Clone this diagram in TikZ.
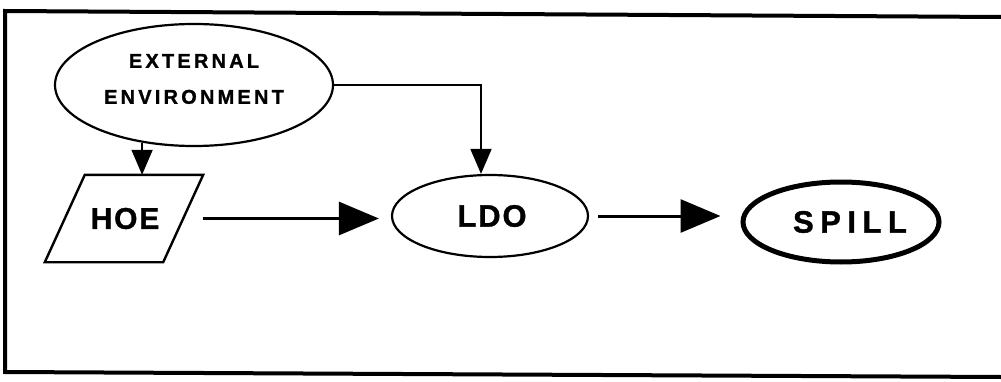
\documentclass[tikz,border=0pt]{standalone}
\usepackage{fontspec}
\setmainfont{Liberation Sans}
\newfontfamily\widefont[LetterSpace=16, BoldFont={* Bold}, BoldFeatures={FakeBold=1.2}]{Liberation Sans}
\newfontfamily\spillfont[LetterSpace=21, BoldFont={* Bold}, BoldFeatures={FakeBold=1.2}]{Liberation Sans}
\newfontfamily\midfont[LetterSpace=6, BoldFont={* Bold}, BoldFeatures={FakeBold=1.2}]{Liberation Sans}
\usetikzlibrary{shapes.geometric,arrows.meta}
\tikzset{
  frame/.style={line width=4pt, line join=miter},
  oval/.style={draw, ellipse, line width=2.2pt, inner sep=0pt},
  bigarrow/.style={line width=3pt, -{Triangle[length=40pt,width=33pt]}},
  smallarrow/.style={line width=1.8pt, -{Triangle[length=25pt,width=21pt]}},
}
\begin{document}
\begin{tikzpicture}[x=1pt,y=1pt]
\useasboundingbox (0,0) rectangle (1001,381);
% frame (open on the right)
\draw[frame] (1001,364) -- (5,370) -- (5,9) -- (1001,4);
% nodes
\node[oval, minimum width=278pt, minimum height=122pt,
      label={[font=\widefont\bfseries\fontsize{20}{36}\selectfont, align=center, yshift=6pt]center:EXTERNAL\\ENVIRONMENT}]
      (ext) at (194,296) {};
\node[rectangle, minimum width=158pt, minimum height=87pt, inner sep=0pt,
      font=\midfont\bfseries\fontsize{30}{30}\selectfont] (hoe) at (124,162.5) {\hspace*{2pt}HOE};
\draw[line width=2.4pt, line join=miter]
  (hoe.south west) -- ([xshift=-40pt]hoe.south east) -- (hoe.north east)
  -- ([xshift=40pt]hoe.north west) -- cycle;
\node[oval, minimum width=196pt, minimum height=82pt,
      font=\midfont\bfseries\fontsize{31}{31}\selectfont] (ldo) at (490,165) {\hspace*{4pt}LDO};
\node[oval, line width=5pt, minimum width=196pt, minimum height=80pt,
      font=\spillfont\bfseries\fontsize{31}{31}\selectfont] (spill) at (841,159) {\hspace*{18pt}SPILL};
% connectors
\draw[smallarrow] (ext.228) -- (ext.228 |- hoe.north);
\draw[smallarrow] (ext.east) -| ([xshift=-9pt]ldo.north);
\draw[bigarrow, shorten >=12pt] (hoe.east) -- (hoe.east -| ldo.west);
\draw[bigarrow, shorten <=9pt, shorten >=20pt] (ldo.east) -- (ldo.east -| spill.west);
\end{tikzpicture}
\end{document}
